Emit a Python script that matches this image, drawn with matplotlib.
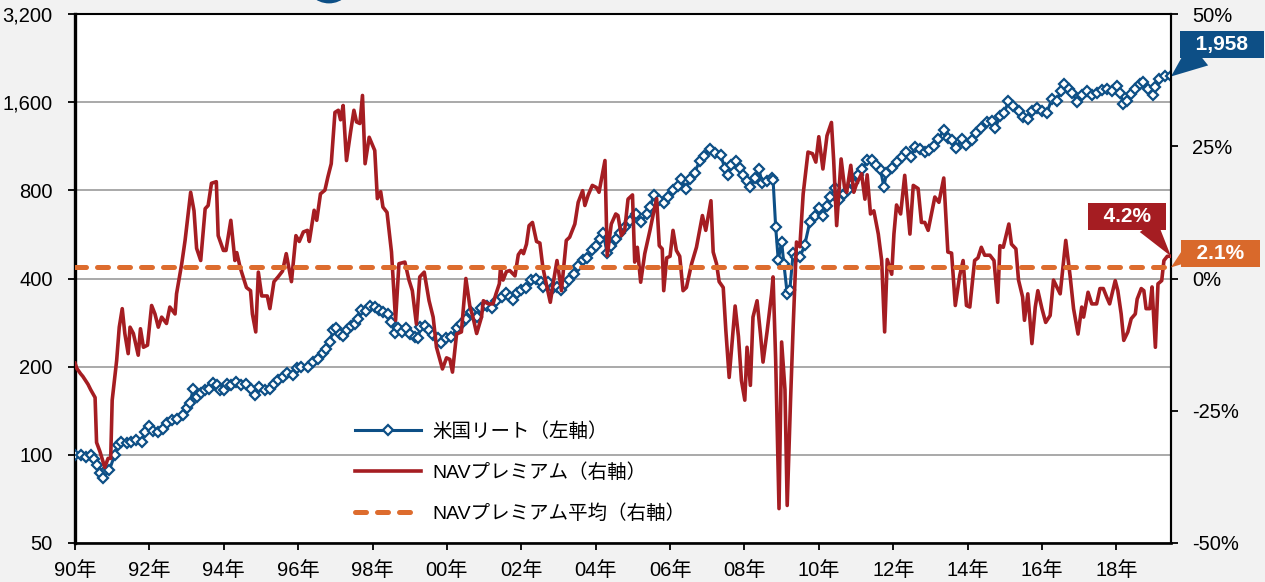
import numpy as np
import matplotlib
matplotlib.use("Agg")
import matplotlib.pyplot as plt
from matplotlib.ticker import NullLocator
from matplotlib.patches import Ellipse
from matplotlib import font_manager

# ---------------- data ----------------
reit_dates = [
    1990.00, 1990.15, 1990.30, 1990.42, 1990.51, 1990.58, 1990.66, 1990.74, 1990.83, 1990.92,
    1991.07, 1991.16, 1991.25, 1991.39, 1991.50, 1991.64, 1991.79, 1991.88, 1992.00, 1992.10,
    1992.24, 1992.37, 1992.48, 1992.60, 1992.73, 1992.91, 1993.02, 1993.09, 1993.18, 1993.29,
    1993.40, 1993.49, 1993.61, 1993.72, 1993.81, 1993.90, 1994.00, 1994.09, 1994.20, 1994.34,
    1994.47, 1994.61, 1994.74, 1994.84, 1994.95, 1995.11, 1995.24, 1995.35, 1995.47, 1995.60,
    1995.71, 1995.85, 1995.96, 1996.09, 1996.27, 1996.40, 1996.54, 1996.67, 1996.76, 1996.85,
    1996.94, 1997.03, 1997.12, 1997.21, 1997.32, 1997.43, 1997.52, 1997.61, 1997.70, 1997.82,
    1997.93, 1998.06, 1998.18, 1998.29, 1998.42, 1998.51, 1998.60, 1998.69, 1998.80, 1998.91,
    1999.02, 1999.14, 1999.22, 1999.29, 1999.41, 1999.52, 1999.63, 1999.77, 1999.84, 1999.98,
    2000.12, 2000.26, 2000.39, 2000.52, 2000.66, 2000.80, 2000.93, 2001.07, 2001.20, 2001.33,
    2001.47, 2001.60, 2001.70, 2001.78, 2001.89, 2002.00, 2002.13, 2002.25, 2002.39, 2002.52,
    2002.58, 2002.71, 2002.84, 2002.95, 2003.08, 2003.17, 2003.29, 2003.41, 2003.53, 2003.66,
    2003.77, 2003.89, 2004.00, 2004.11, 2004.20, 2004.31, 2004.42, 2004.54, 2004.65, 2004.78,
    2004.92, 2005.08, 2005.23, 2005.37, 2005.46, 2005.56, 2005.70, 2005.83, 2005.95, 2006.08,
    2006.21, 2006.30, 2006.42, 2006.53, 2006.66, 2006.80, 2006.91, 2007.07, 2007.21, 2007.36,
    2007.47, 2007.56, 2007.65, 2007.77, 2007.88, 2007.95, 2008.06, 2008.16, 2008.28, 2008.39,
    2008.48, 2008.61, 2008.73, 2008.77, 2008.84, 2008.91, 2009.00, 2009.06, 2009.15, 2009.22,
    2009.31, 2009.40, 2009.50, 2009.62, 2009.76, 2009.89, 2010.00, 2010.11, 2010.22, 2010.31,
    2010.43, 2010.55, 2010.67, 2010.78, 2010.92, 2011.05, 2011.17, 2011.30, 2011.42, 2011.55,
    2011.66, 2011.75, 2011.82, 2011.96, 2012.10, 2012.23, 2012.35, 2012.47, 2012.59, 2012.72,
    2012.85, 2012.97, 2013.10, 2013.21, 2013.36, 2013.47, 2013.58, 2013.70, 2013.84, 2013.97,
    2014.11, 2014.24, 2014.37, 2014.51, 2014.65, 2014.75, 2014.87, 2014.98, 2015.10, 2015.23,
    2015.37, 2015.50, 2015.62, 2015.74, 2015.86, 2016.00, 2016.13, 2016.27, 2016.40, 2016.51,
    2016.60, 2016.72, 2016.82, 2016.94, 2017.07, 2017.21, 2017.34, 2017.48, 2017.61, 2017.74,
    2017.88, 2018.01, 2018.10, 2018.19, 2018.28, 2018.39, 2018.51, 2018.63, 2018.72, 2018.84,
    2018.99, 2019.05, 2019.16, 2019.30, 2019.47,
]
reit_vals = [
    100, 100, 98, 100, 97, 92, 86.5, 83.5, 89, 88.5,
    100, 108, 111, 110, 111, 112.5, 111, 120, 125, 121,
    120, 123, 128, 131, 133, 137, 145, 150, 168, 158,
    162, 166, 168, 176, 173, 166, 166, 175, 173, 177,
    173, 175, 168, 160, 170, 166, 168, 175, 180, 185,
    190, 188, 198, 200, 200, 208, 212, 222, 229, 243,
    266, 270, 258, 254, 266, 276, 280, 291, 312, 310,
    322, 320, 312, 308, 302, 285, 260, 270, 263, 270,
    258, 252, 250, 273, 276, 266, 256, 250, 241, 250,
    252, 270, 280, 292, 308, 296, 316, 322, 318, 336,
    345, 358, 345, 338, 356, 365, 372, 394, 398, 388,
    375, 388, 372, 375, 365, 383, 394, 415, 443, 461,
    470, 499, 515, 546, 574, 488, 515, 546, 574, 600,
    630, 666, 625, 666, 700, 770, 740, 722, 760, 800,
    830, 877, 810, 877, 920, 1010, 1050, 1110, 1070, 1055,
    955, 905, 975, 1005, 950, 900, 860, 820, 880, 944,
    845, 860, 880, 870, 600, 461, 535, 450, 355, 365,
    488, 475, 475, 520, 625, 655, 695, 655, 705, 760,
    815, 740, 780, 800, 845, 900, 944, 1015, 1015, 975,
    940, 820, 920, 955, 1000, 1040, 1080, 1040, 1125, 1110,
    1080, 1095, 1135, 1195, 1285, 1205, 1185, 1120, 1200, 1140,
    1190, 1260, 1310, 1370, 1385, 1310, 1430, 1470, 1610, 1550,
    1490, 1420, 1400, 1490, 1530, 1490, 1470, 1645, 1620, 1750,
    1850, 1775, 1720, 1600, 1690, 1750, 1690, 1720, 1760, 1775,
    1750, 1810, 1720, 1580, 1620, 1700, 1780, 1850, 1880, 1780,
    1690, 1800, 1915, 1960, 1958,
]

nav_dates = [
    1990.00, 1990.05, 1990.15, 1990.21, 1990.35, 1990.42, 1990.54, 1990.58, 1990.67, 1990.80,
    1990.89, 1990.96, 1991.00, 1991.12, 1991.19, 1991.27, 1991.34, 1991.43, 1991.48, 1991.57,
    1991.70, 1991.76, 1991.84, 1991.95, 1992.06, 1992.15, 1992.24, 1992.33, 1992.46, 1992.55,
    1992.69, 1992.73, 1992.87, 1992.96, 1993.11, 1993.20, 1993.27, 1993.38, 1993.50, 1993.58,
    1993.67, 1993.80, 1993.85, 1993.99, 1994.06, 1994.19, 1994.30, 1994.35, 1994.44, 1994.61,
    1994.72, 1994.77, 1994.86, 1994.93, 1995.02, 1995.17, 1995.24, 1995.35, 1995.46, 1995.58,
    1995.68, 1995.82, 1995.94, 1996.03, 1996.14, 1996.25, 1996.30, 1996.43, 1996.50, 1996.60,
    1996.72, 1996.80, 1996.89, 1996.99, 1997.08, 1997.14, 1997.21, 1997.30, 1997.41, 1997.50,
    1997.57, 1997.66, 1997.73, 1997.80, 1997.91, 1998.06, 1998.13, 1998.22, 1998.28, 1998.39,
    1998.51, 1998.62, 1998.71, 1998.87, 1998.98, 1999.07, 1999.18, 1999.27, 1999.39, 1999.52,
    1999.63, 1999.72, 1999.88, 1999.99, 2000.08, 2000.15, 2000.26, 2000.39, 2000.51, 2000.62,
    2000.69, 2000.80, 2000.93, 2000.98, 2001.11, 2001.24, 2001.32, 2001.41, 2001.44, 2001.51,
    2001.60, 2001.69, 2001.83, 2001.92, 2002.00, 2002.06, 2002.14, 2002.21, 2002.30, 2002.41,
    2002.50, 2002.58, 2002.69, 2002.78, 2002.87, 2002.96, 2003.08, 2003.21, 2003.30, 2003.44,
    2003.53, 2003.65, 2003.71, 2003.80, 2003.91, 2004.02, 2004.09, 2004.25, 2004.31, 2004.42,
    2004.54, 2004.60, 2004.69, 2004.78, 2004.87, 2004.99, 2005.05, 2005.12, 2005.21, 2005.32,
    2005.46, 2005.55, 2005.64, 2005.71, 2005.79, 2005.83, 2005.91, 2006.00, 2006.08, 2006.17,
    2006.26, 2006.35, 2006.44, 2006.58, 2006.71, 2006.87, 2006.96, 2007.10, 2007.16, 2007.25,
    2007.32, 2007.43, 2007.50, 2007.59, 2007.68, 2007.75, 2007.84, 2007.92, 2008.01, 2008.07,
    2008.16, 2008.23, 2008.34, 2008.43, 2008.50, 2008.61, 2008.73, 2008.77, 2008.84, 2008.93,
    2009.00, 2009.09, 2009.15, 2009.24, 2009.31, 2009.40, 2009.49, 2009.58, 2009.71, 2009.83,
    2009.92, 2010.00, 2010.11, 2010.22, 2010.34, 2010.40, 2010.48, 2010.60, 2010.69, 2010.75,
    2010.86, 2010.94, 2011.01, 2011.15, 2011.24, 2011.30, 2011.39, 2011.48, 2011.60, 2011.69,
    2011.77, 2011.84, 2011.96, 2012.02, 2012.09, 2012.20, 2012.31, 2012.45, 2012.54, 2012.67,
    2012.76, 2012.85, 2012.94, 2013.12, 2013.23, 2013.36, 2013.47, 2013.57, 2013.67, 2013.79,
    2013.88, 2013.97, 2014.06, 2014.19, 2014.28, 2014.37, 2014.46, 2014.60, 2014.71, 2014.81,
    2014.87, 2014.96, 2015.11, 2015.18, 2015.30, 2015.37, 2015.48, 2015.53, 2015.62, 2015.73,
    2015.82, 2015.89, 2016.00, 2016.10, 2016.22, 2016.31, 2016.40, 2016.49, 2016.64, 2016.76,
    2016.85, 2016.97, 2017.07, 2017.12, 2017.24, 2017.34, 2017.47, 2017.56, 2017.65, 2017.74,
    2017.82, 2017.97, 2018.04, 2018.13, 2018.20, 2018.31, 2018.40, 2018.51, 2018.56, 2018.67,
    2018.74, 2018.80, 2018.90, 2018.96, 2019.05, 2019.12, 2019.22, 2019.28, 2019.37, 2019.47,
]
nav_vals = [
    -16, -17, -18, -18.5, -20, -21, -22.5, -31, -32.7, -35.7,
    -34, -34, -23, -15.5, -9.2, -5.7, -10.4, -14.2, -9.2, -10.4,
    -14.5, -9.5, -13, -12.6, -5.1, -6.7, -9.2, -7.3, -8.5, -5.4,
    -6.7, -2.9, 2.8, 7.2, 16.3, 12.8, 5.7, 3.4, 13.2, 13.8,
    18, 18.3, 8.1, 5.3, 5.3, 11, 3.4, 4.9, 2.1, -1.7,
    -2.3, -6.7, -10.1, 1.2, -3.3, -3.3, -5.7, -0.6, 0.3, 1.4,
    4.7, -0.6, 8.1, 7.0, 8.8, 9.1, 7.0, 12.9, 11, 16,
    16.7, 19.2, 21.7, 31.4, 31.8, 30, 32.7, 22.3, 27.7, 31.8,
    29.6, 29.3, 34.6, 21.7, 26.7, 24.2, 15.1, 16.4, 13.5, 12.5,
    5, -7.9, 2.8, 3.1, -0.3, -2.3, -8.6, 0.3, 1.2, -4.2,
    -7.3, -13, -17.1, -15, -15.3, -17.7, -10.5, -10.1, 0, -5.4,
    -7, -10.4, -7.3, -4.2, -4.8, -4.8, -2.9, -1.0, 1.9, -0.3,
    1.3, 1.5, 0.5, 4.5, 5.3, 4.7, 6.5, 10, 10.6, 7,
    6.7, 2.1, -1.6, -4.5, -0.4, 3.4, -2.3, 7.2, 7.8, 10.3,
    14.4, 16.6, 13.8, 15.8, 17.6, 17.2, 16.3, 22.3, 4.3, 10.3,
    12.2, 11.9, 8.1, 9.1, 15, 15.8, 3.1, 5.9, -0.7, 4.7,
    9.1, 12.2, 15.1, 6.2, 5.6, -2.3, 3.9, 4.2, 9.1, 5.3,
    4.2, -2.3, -1.7, 2.8, 5.9, 11.9, 9.1, 14.7, 5, 2.8,
    -0.6, -1.7, -9.8, -18.7, -11, -5.2, -11, -19.3, -23, -13,
    -20.2, -7.3, -4.2, -10.4, -15.8, -10, -2.9, 0.3, -15.4, -43.5,
    -12, -21, -42.9, -23, -9.2, 6.9, 6, 16, 23.9, 23.6,
    22, 26.8, 20.7, 27, 29.5, 22.3, 10, 22.6, 17.3, 16.3,
    21.4, 16.3, 17.8, 19.8, 15, 19.6, 12.2, 12.8, 8.4, 3.4,
    -10.1, 3.6, 0.8, 8.4, 13.9, 12.2, 19.5, 8.4, 17.6, 17,
    10.6, 10.6, 9.1, 15.4, 14.4, 19, 5, 4.8, -5.1, 0.6,
    3.4, -5.1, -5.4, 3.4, 3.9, 5.9, 4.4, 4.4, 3.4, -4.5,
    6.2, 5.9, 10.3, 6.5, 5.6, -0.3, -3.5, -7.9, -2.9, -12.3,
    -5.4, -2.3, -5.7, -8.3, -7, -0.3, -1.6, -2.9, 7.2, 0.3,
    -5.7, -10.5, -5.4, -7.3, -2.6, -4.8, -4.8, -1.9, -1.9, -3.5,
    -4.8, -0.4, -2.3, -6.7, -11.7, -10.1, -7.6, -6.7, -3.9, -1.9,
    -2.3, -5.7, -5.7, -1.6, -13, -1, -0.4, 3.4, 4.2, 4.2,
]
nav_avg = 2.1

left_ticks = [50, 100, 200, 400, 800, 1600, 3200]
left_labels = ["50", "100", "200", "400", "800", "1,600", "3,200"]
right_ticks = [-50, -25, 0, 25, 50]
right_labels = ["-50%", "-25%", "0%", "25%", "50%"]
x_ticks = list(range(1990, 2019, 2))
x_labels = [f"{y % 100:02d}年" for y in x_ticks]
series_names = ["米国リート（左軸）", "NAVプレミアム（右軸）", "NAVプレミアム平均（右軸）"]

# ---------------- style ----------------
BLUE = "#0d4f86"
RED = "#a51d22"
ORANGE = "#dd6c2e"
ORANGE_BOX = "#d9692b"
GRID = "#a3a3a3"

available = {f.name for f in font_manager.fontManager.ttflist}
narrow = "Liberation Sans Narrow" if "Liberation Sans Narrow" in available else "Liberation Sans"
tick_family = [narrow, "Noto Sans CJK JP", "DejaVu Sans"]
plt.rcParams["font.family"] = tick_family

W, H = 1265, 582
fig = plt.figure(figsize=(W / 100, H / 100), dpi=100, facecolor="#f2f2f2")
ax = fig.add_axes([75 / W, 1 - 543 / H, (1171 - 75) / W, (543 - 14) / H])
ax.set_facecolor("white")

# decorative logo fragment at top edge
fig.patches.append(Ellipse((329 / W, 1 + 21 / H), 2 * 23.7 / W, 2 * 23.7 / H,
                           transform=fig.transFigure, color=BLUE, zorder=0))

ax.set_yscale("log", base=2)
ax.set_ylim(left_ticks[0], left_ticks[-1])
ax.set_xlim(reit_dates[0], reit_dates[-1])
ax.set_yticks(left_ticks)
ax.set_yticklabels(left_labels)
ax.yaxis.set_minor_locator(NullLocator())
ax.set_xticks(x_ticks)
ax.set_xticklabels(x_labels)
ax.grid(axis="y", color=GRID, lw=1.3, zorder=0)
ax.set_axisbelow(True)

ax.tick_params(axis="y", direction="out", length=5, width=1.3, pad=11, labelsize=14.5, colors="black")
ax.tick_params(axis="x", direction="out", length=5, width=1.3, pad=8, labelsize=14.5)

l_reit, = ax.plot(reit_dates, reit_vals, color=BLUE, lw=2.2, marker="D", ms=5.4,
                  mfc="white", mec=BLUE, mew=1.6, zorder=3, label=series_names[0])

ax2 = ax.twinx()
ax2.set_ylim(right_ticks[0], right_ticks[-1])
ax2.set_yticks(right_ticks)
ax2.set_yticklabels(right_labels)
ax2.tick_params(axis="y", direction="out", length=5, width=1.3, pad=10, labelsize=14.5)
l_nav, = ax2.plot(nav_dates, nav_vals, color=RED, lw=2.6, zorder=3, label=series_names[1])
l_avg, = ax2.plot([nav_dates[0], nav_dates[-1]], [nav_avg, nav_avg], color=ORANGE, lw=3.6,
                  linestyle=(0, (2.2, 2.2)), dash_capstyle="round", zorder=4,
                  label=series_names[2])

for a in (ax, ax2):
    for s in a.spines.values():
        s.set_color("black")
ax.spines["left"].set_linewidth(2.4)
ax.spines["bottom"].set_linewidth(1.9)
ax.spines["top"].set_linewidth(1.5)
ax.spines["right"].set_linewidth(1.5)
for s in ("left", "bottom", "top"):
    ax2.spines[s].set_visible(False)
ax2.spines["right"].set_linewidth(1.5)

leg = ax2.legend(handles=[l_reit, l_nav, l_avg], loc="upper left",
                 bbox_to_anchor=(355 / W, 1 - 422 / H), bbox_transform=fig.transFigure,
                 frameon=False, borderpad=0, borderaxespad=0, handlelength=3.4,
                 handletextpad=0.6, labelspacing=1.15, numpoints=1,
                 prop={"family": tick_family, "size": 14})

# ---------------- callouts ----------------
lab_font = dict(family=["Liberation Sans", "DejaVu Sans"], fontweight="bold", fontsize=15)
ax.annotate(f"  {reit_vals[-1]:,}  ", xy=(reit_dates[-1], reit_vals[-1]), xytext=(36.5, 23),
            textcoords="offset points", ha="center", va="center", color="white",
            annotation_clip=False, zorder=6,
            bbox=dict(boxstyle="square,pad=0.2", fc=BLUE, ec="none"),
            arrowprops=dict(arrowstyle="wedge,tail_width=1.4", fc=BLUE, ec="none",
                            patchA=None, shrinkA=0, shrinkB=0, relpos=(0.2, 0.0)),
            **lab_font)
ax2.annotate(f"  {nav_vals[-1]:.1f}%  ", xy=(nav_dates[-1], nav_vals[-1]), xytext=(-31.7, 28.8),
             textcoords="offset points", ha="center", va="center", color="white",
             annotation_clip=False, zorder=6,
             bbox=dict(boxstyle="square,pad=0.2", fc=RED, ec="none"),
             arrowprops=dict(arrowstyle="wedge,tail_width=1.0", fc=RED, ec="none",
                             patchA=None, shrinkA=0, shrinkB=0, relpos=(0.8, 0.0)),
             **lab_font)
ax2.annotate(f"  {nav_avg:.1f}%  ", xy=(nav_dates[-1], nav_avg), xytext=(35.3, 10.1),
             textcoords="offset points", ha="center", va="center", color="white",
             annotation_clip=False, zorder=6,
             bbox=dict(boxstyle="square,pad=0.2", fc=ORANGE_BOX, ec="none"),
             arrowprops=dict(arrowstyle="wedge,tail_width=0.6", fc=ORANGE_BOX, ec="none",
                             patchA=None, shrinkA=0, shrinkB=0, relpos=(0.0, 0.3)),
             **lab_font)

fig.savefig("out.png", dpi=100, facecolor=fig.get_facecolor())
